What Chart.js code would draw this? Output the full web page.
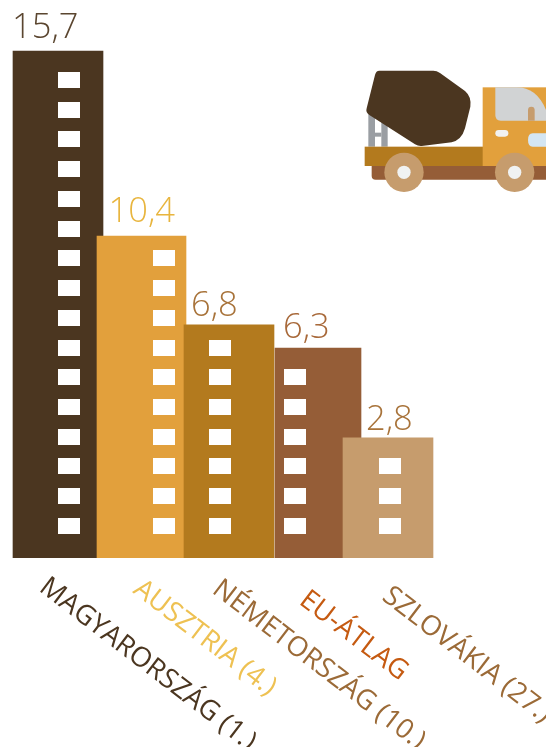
<!DOCTYPE html>
<html lang="hu">
<head>
<meta charset="utf-8">
<title>Chart</title>
<script src="https://cdn.jsdelivr.net/npm/chart.js@4/dist/chart.umd.min.js"></script>
<style>
    html, body { margin: 0; padding: 0; background: #fff; overflow: hidden; }
    #wrap { position: relative; width: 546px; height: 747px; }
    #chart { position: absolute; left: 0; top: 0; }
    #truck { position: absolute; left: 350px; top: 55px; }
</style>
</head>
<body>
<div id="wrap">
    <canvas id="chart" width="546" height="747"></canvas>
    <svg id="truck" width="196" height="150" viewBox="0 0 588 450">
        <!-- mixer truck icon -->
        <rect x="55" y="175" width="20" height="100" fill="#9a9ea3"/>
        <rect x="94" y="195" width="19" height="80" fill="#9a9ea3"/>
        <rect x="75" y="233" width="19" height="12" fill="#9a9ea3"/>
        <rect x="65" y="320" width="540" height="54" rx="12" fill="#955d37"/>
        <rect x="44" y="275" width="356" height="58" fill="#b37a1e"/>
        <rect x="398" y="97" width="190" height="236" fill="#e2a03c"/>
        <path d="M436 97 H500 Q560 97 588 165 V197 H452 Q436 197 436 180 Z" fill="#d1d3d4"/>
        <path d="M534 197 V165 Q534 155 544 155 Q554 155 554 165 V197 Z" fill="#c69c6d"/>
        <rect x="436" y="225" width="39" height="20" rx="10" fill="#f1f2f2"/>
        <path d="M588 235 H548 Q534 235 534 255 Q534 275 548 275 H588 Z" fill="#d4e6f3"/>
        <path d="M88 47 H250 Q260 47 270 54 L345 108 Q365 125 361 155 L345 220 Q335 255 305 262 L215 273 Q205 274 195 268 L58 180 Q46 172 50 160 L75 60 Q78 47 88 47 Z" fill="#4b3620"/>
        <circle cx="162" cy="352" r="59" fill="#c69c6d"/>
        <circle cx="162" cy="352" r="20" fill="#f0f2f2"/>
        <circle cx="494" cy="352" r="59" fill="#c69c6d"/>
        <circle cx="494" cy="352" r="20" fill="#f0f2f2"/>
    </svg>
</div>

<script>
// Data
const categories = ['MAGYARORSZÁG (1.)', 'AUSZTRIA (4.)', 'NÉMETORSZÁG (10.)', 'EU-ÁTLAG', 'SZLOVÁKIA (27.)'];
const values = ['15,7', '10,4', '6,8', '6,3', '2,8'];

// The buildings are not drawn to scale in the original, so heights are read
// separately, in storeys (one storey = one window row)
const barStoreys = [17.05, 10.83, 7.84, 7.06, 4.04];
const windowCounts = [16, 10, 7, 6, 3];

// Bars are unevenly spaced and overlap
const barCentres = [58, 141.5, 229, 318, 388];
const barWidths = [90, 89, 90, 86, 90];
const windowCentres = [68.5, 163.5, 220, 295, 389.5];

const barColors = ['#4b3620', '#e2a03c', '#b37a1e', '#955d37', '#c69c6d'];
const valueColors = ['#5b4630', '#e8b53e', '#a8733a', '#a8693a', '#a8733a'];
const labelColors = ['#4b3620', '#eec152', '#9b6a37', '#c55a11', '#9b6a37'];

const valueDx = [-46, -33, -38, -35, -22];
const valueDy = [13, 14, 9, 10, 8];
const labelDx = [-20, -9.5, -18, -20, -7];
const labelY = [590, 592, 592, 603, 599];

const FONT = '"Open Sans", "Noto Sans", sans-serif';

// White window used as point style
const windowImg = document.createElement('canvas');
windowImg.width = 22;
windowImg.height = 16;
const wctx = windowImg.getContext('2d');
wctx.fillStyle = '#fff';
wctx.fillRect(0, 0, 22, 16);

const windowPoints = [];
windowCounts.forEach((count, i) => {
    for (let k = 0; k < count; k++) {
        windowPoints.push({ x: windowCentres[i], y: 1.08 + k });
    }
});

const barDatasets = categories.map((name, i) => ({
    type: 'bar',
    label: name,
    data: [{ x: barCentres[i], y: barStoreys[i] }],
    backgroundColor: barColors[i],
    barThickness: barWidths[i],
    grouped: false,
    order: 10 - i
}));

const textPlugin = {
    id: 'textLabels',
    afterDraw(chart) {
        const { ctx, scales } = chart;
        ctx.save();
        ctx.textBaseline = 'alphabetic';
        ctx.textAlign = 'left';
        categories.forEach((name, i) => {
            const cx = scales.x.getPixelForValue(barCentres[i]);
            const top = scales.y.getPixelForValue(barStoreys[i]);

            ctx.font = '300 34.5px ' + FONT;
            ctx.fillStyle = valueColors[i];
            ctx.fillText(values[i], cx + valueDx[i], top - valueDy[i]);

            ctx.save();
            ctx.translate(cx + labelDx[i], labelY[i]);
            ctx.rotate(37.5 * Math.PI / 180);
            ctx.font = '400 27.5px ' + FONT;
            ctx.fillStyle = labelColors[i];
            ctx.fillText(name, 0, 0);
            ctx.restore();
        });
        ctx.restore();
    }
};

new Chart(document.getElementById('chart'), {
    data: {
        datasets: [
            ...barDatasets,
            {
                type: 'scatter',
                label: 'windows',
                data: windowPoints,
                pointStyle: windowImg,
                order: 0
            }
        ]
    },
    options: {
        responsive: false,
        animation: false,
        layout: { autoPadding: false, padding: { left: 0, right: 0, top: 0, bottom: 189 } },
        plugins: {
            legend: { display: false },
            tooltip: { enabled: false }
        },
        scales: {
            x: { type: 'linear', min: 0, max: 546, offset: false, display: false },
            y: { min: 0, max: 18.77, display: false }
        }
    },
    plugins: [textPlugin]
});
</script>
</body>
</html>
